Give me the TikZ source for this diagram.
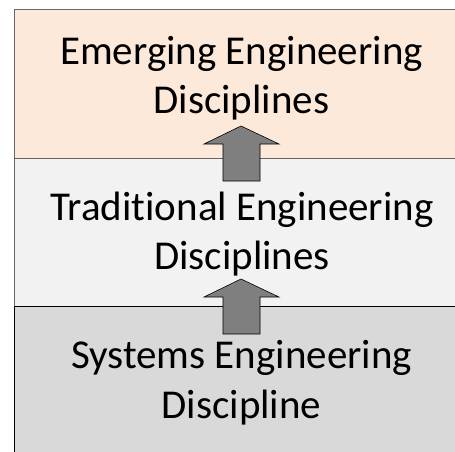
\documentclass[tikz,border=0pt]{standalone}
\usepackage{fontspec}
\setmainfont[Ligatures=NoCommon]{Carlito}
\definecolor{peach}{HTML}{FDE9D9}
\definecolor{lightband}{HTML}{F2F2F2}
\definecolor{darkband}{HTML}{D9D9D9}
\definecolor{arrowfill}{HTML}{7F7F7F}
\begin{document}
\begin{tikzpicture}[x=1pt,y=-1pt,
  band/.style={line width=0.8pt},
  label/.style={anchor=base,inner sep=0pt,font=\fontsize{41}{49}\selectfont},
  blockarrow/.style={fill=arrowfill,draw=black,line width=0.6pt,line join=miter}]
\useasboundingbox (0,0) rectangle (455,452);
\fill[white] (0,0) rectangle (455,452);
% bands
\path[band,fill=peach,draw=black!60] (14,9) rectangle (460,158);
\path[band,fill=lightband,draw=black!60] (14,158) rectangle (460,306);
\path[band,fill=darkband,draw=black] (14,306) rectangle (460,460);
% arrows
\draw[blockarrow] (241,126) -- (279,144) -- (260,144) -- (260,181) -- (223,181) -- (223,144) -- (204,144) -- cycle;
\draw[blockarrow] (241,279) -- (279,297) -- (260,297) -- (260,334) -- (223,334) -- (223,297) -- (204,297) -- cycle;
% texts
\node[label] (e1) at (241.5,64) {Emerging Engineering};
\node[label] (e2) at (241.5,113) {Disciplines};
\node[label] (t1) at (242,220) {Traditional Engineering};
\node[label] (t2) at (242,269) {Disciplines};
\node[label] (s1) at (241.5,368) {Systems Engineering};
\node[label] (s2) at (241.5,418) {Discipline};
\end{tikzpicture}
\end{document}
